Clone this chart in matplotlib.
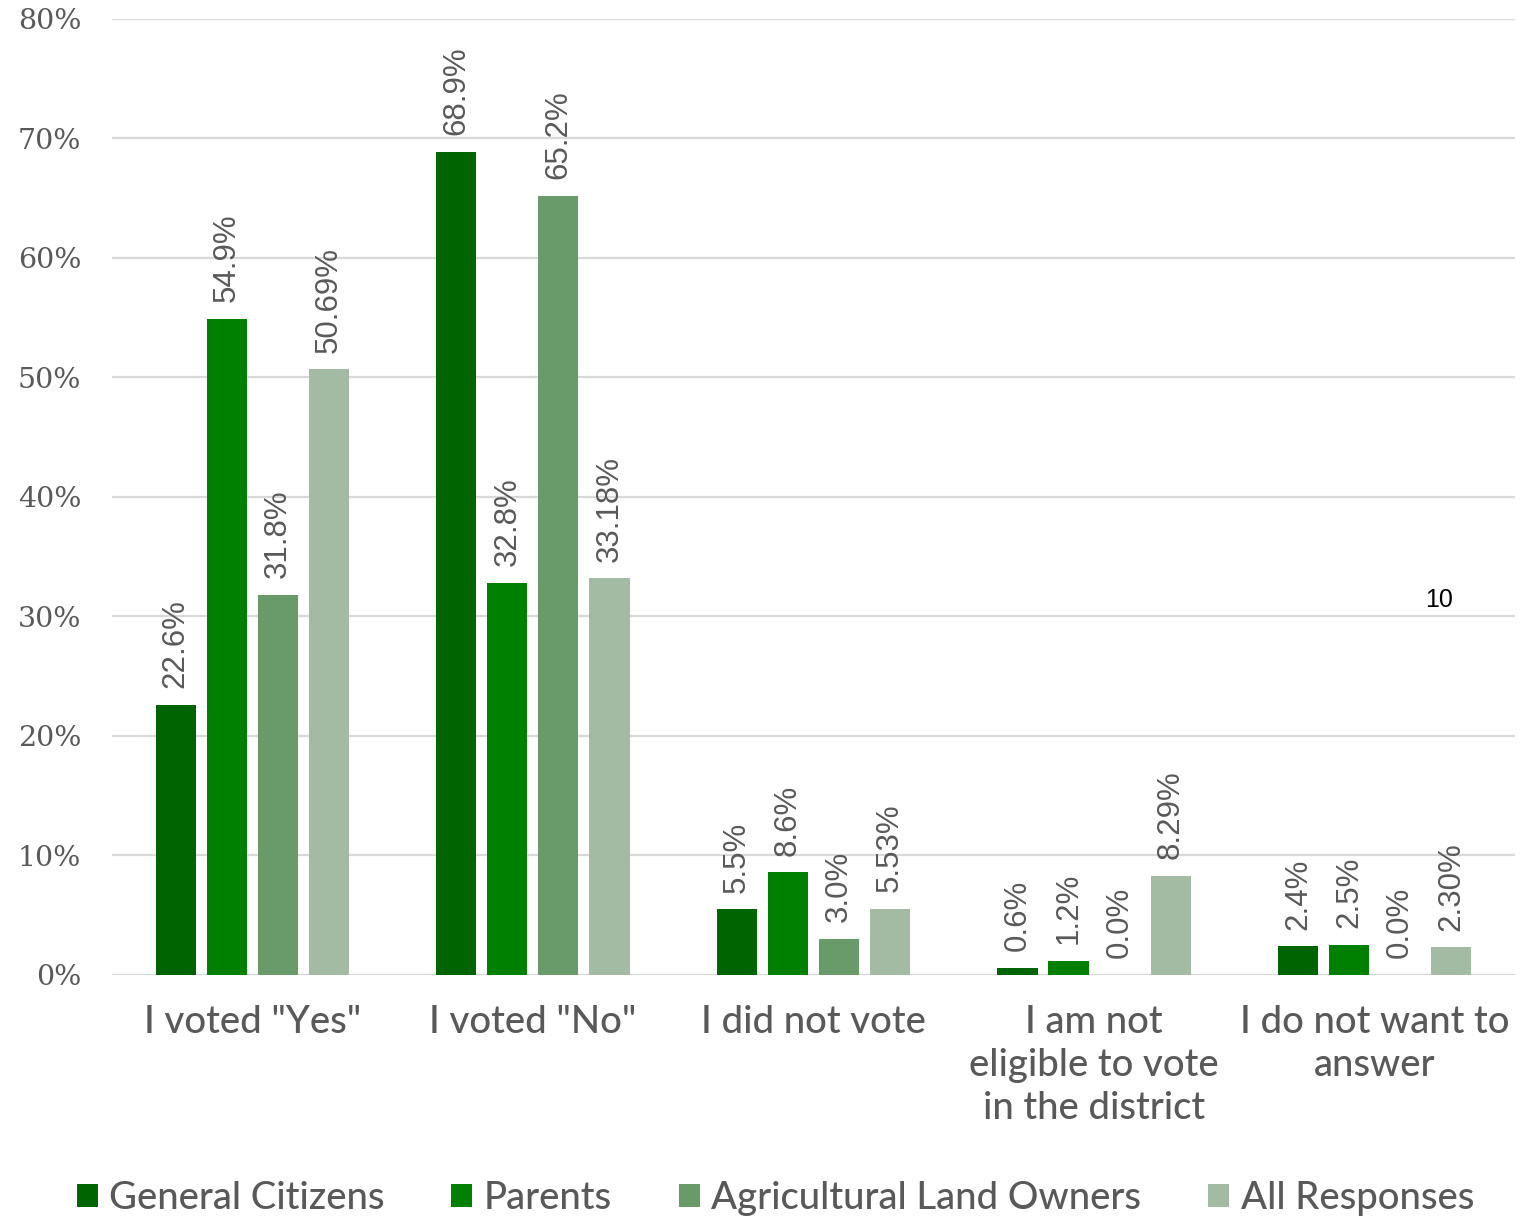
import numpy as np
import matplotlib.pyplot as plt
from matplotlib.patches import Patch

# Data
categories = ['I voted "Yes"', 'I voted "No"', 'I did not vote',
              'I am not\neligible to vote\nin the district', 'I do not want to\nanswer']
series = ["General Citizens", "Parents", "Agricultural Land Owners", "All Responses"]
general = [22.6, 68.9, 5.5, 0.6, 2.4]
parents = [54.9, 32.8, 8.6, 1.2, 2.5]
agri = [31.8, 65.2, 3.0, 0.0, 0.0]
all_resp = [50.69, 33.18, 5.53, 8.29, 2.30]
decimals = [1, 1, 1, 2]
yticks = [0, 10, 20, 30, 40, 50, 60, 70, 80]

colors = ["#006400", "#008000", "#699a69", "#a2bba2"]
grey = "#595959"

fig = plt.figure(figsize=(15.32, 12.17), dpi=100)
ax = fig.add_axes([0.0731, 0.1989, 0.9158, 0.7855])

x = np.arange(len(categories))
step = 0.182
width = 0.143
values = [general, parents, agri, all_resp]
for i, (name, vals) in enumerate(zip(series, values)):
    pos = x + (i - 1.5) * step
    ax.bar(pos, vals, width=width, color=colors[i], label=name, zorder=3)
    for xp, v in zip(pos, vals):
        ax.annotate(f"{v:.{decimals[i]}f}%", (xp, v), xytext=(0, 12),
                    textcoords="offset points", rotation=90, ha="center",
                    va="bottom", fontsize=22.5, color=grey,
                    family="Liberation Sans", zorder=4)

ax.set_xlim(-0.5, len(categories) - 0.5)
ax.set_ylim(0, 80)
ax.set_yticks(yticks)
ax.set_yticklabels([f"{t}%" for t in yticks], family="DejaVu Serif",
                   fontsize=20.5, color=grey)
ax.set_xticks(x)
ax.set_xticklabels(categories, family="Lato", fontsize=27.5, weight="medium",
                   color=grey, linespacing=1.27)
ax.tick_params(axis="both", length=0)
ax.tick_params(axis="x", pad=22)
ax.tick_params(axis="y", pad=22)
ax.grid(axis="y", color="#d9d9d9", linewidth=1.6, zorder=0)
for s in ["top", "right", "left", "bottom"]:
    ax.spines[s].set_visible(False)
ax.axhline(0, color="#d9d9d9", linewidth=1.6, zorder=1)

# stray label present in the original
ax.text(4.23, 30.4, "10", fontsize=18, family="Liberation Sans",
        color="black", ha="center", va="bottom")

handles = [Patch(facecolor=c, label=n) for c, n in zip(colors, series)]
leg = fig.legend(handles=handles, loc="center", bbox_to_anchor=(0.506, 0.015),
                 ncol=4, frameon=False, handlelength=0.55,
                 handleheight=0.55, handletextpad=0.3, columnspacing=1.75,
                 prop={"family": "Lato", "size": 27.5, "weight": "medium"})
for t in leg.get_texts():
    t.set_color(grey)

fig.savefig("out.png", dpi=100)
